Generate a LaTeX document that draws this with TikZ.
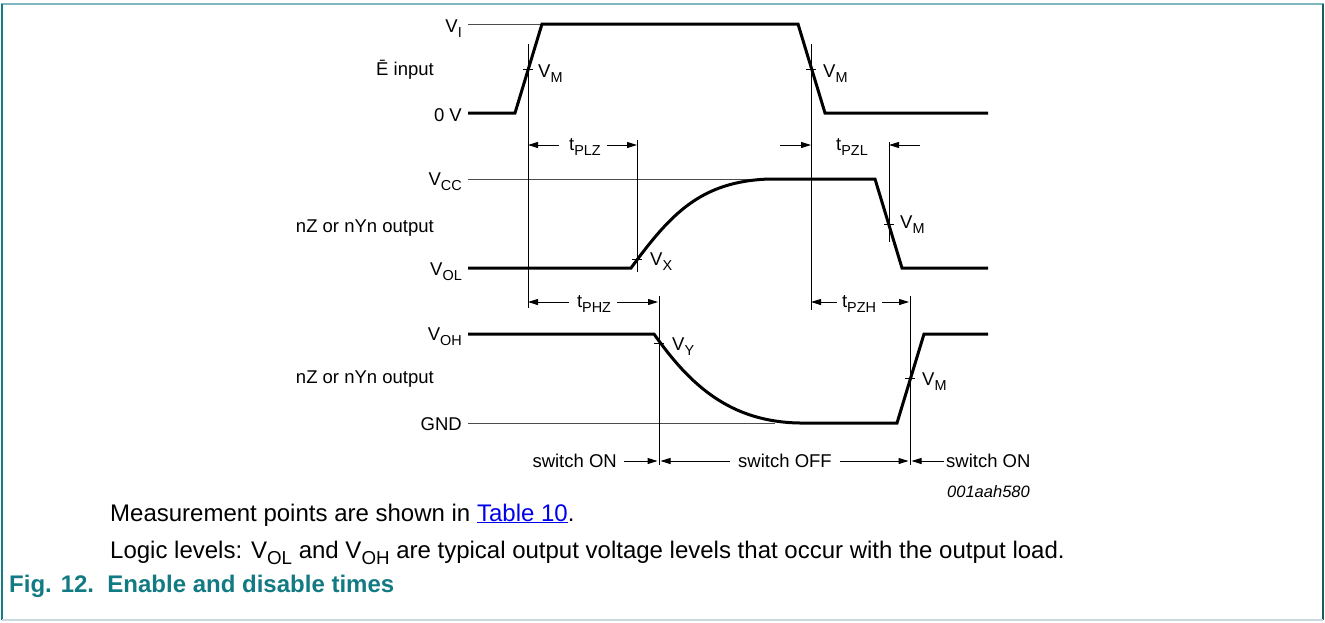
\documentclass[tikz,border=0pt]{standalone}
\usepackage{fontspec}
\setmainfont{Liberation Sans}
\usepackage{tikz}
\usetikzlibrary{positioning, arrows.meta}

\definecolor{figteal}{RGB}{18,122,130}
\definecolor{topteal}{RGB}{125,182,188}
\definecolor{sideteal}{RGB}{20,125,132}
\definecolor{rightteal}{RGB}{25,92,100}
\definecolor{botgray}{RGB}{200,218,222}
\definecolor{linkblue}{RGB}{0,0,235}

\newcommand{\vsub}[2]{#1\raisebox{-0.28em}{\scalebox{0.78}{#2}}}

\tikzset{
  wave/.style={line width=3pt},
  refline/.style={line width=1pt, black!70},
  vline/.style={line width=1pt},
  dim/.style={line width=1pt, -{Triangle[length=10pt,width=6pt]}},
  lbl/.style={inner sep=0pt, font=\fontsize{18.5}{22}\selectfont},
  note/.style={inner sep=0pt, anchor=base west, font=\fontsize{24}{28}\selectfont},
}

\begin{document}
\begin{tikzpicture}[x=1pt,y=-1pt]
\useasboundingbox (0,0) rectangle (1325,622);
% frame
\draw[topteal, line width=2pt] (1,4) -- (1324,4);
\draw[sideteal, line width=1.5pt] (2,4) -- (2,620);
\draw[rightteal, line width=1.5pt] (1323,4) -- (1323,620);
\draw[botgray, line width=2pt] (2,620) -- (1323,620);

% level labels
\node[lbl, anchor=base east] (vi) at (462,32) {\vsub{V}{I}};
\node[lbl, anchor=base east] (ein) at (434,75) {Ē input};
\node[lbl, anchor=base east] (zero) at (462,121) {0 V};
\node[lbl, anchor=base east] (vcc) at (462,185) {\vsub{V}{CC}};
\node[lbl, anchor=base east] (out1) at (434,232) {nZ or nYn output};
\node[lbl, anchor=base east] (vol) at (462,275) {\vsub{V}{OL}};
\node[lbl, anchor=base east] (voh) at (462,340) {\vsub{V}{OH}};
\node[lbl, anchor=base east] (out2) at (434,383) {nZ or nYn output};
\node[lbl, anchor=base east] (gnd) at (462,430) {GND};

% reference levels
\draw[refline] (468,24) -- (542,24);
\draw[refline] (468,179) -- (760,179);
\draw[refline] (468,423) -- (775,423);

% waveforms
\draw[wave] (468,113) -- (515,113) -- (542,24) -- (798,24) -- (825,113) -- (988,113);
\draw[wave] (468,268) -- (631,268) .. controls (670,215) and (700,181) .. (770,179)
  -- (875,179) -- (902,268) -- (988,268);
\draw[wave] (468,334) -- (654,334) .. controls (690,385) and (730,422) .. (800,423)
  -- (897,423) -- (924,334) -- (988,334);

% measurement lines
\coordinate (rise) at (528,44);
\coordinate (fall) at (811,44);
\coordinate (vx) at (637,140);
\coordinate (vm2) at (889,142);
\coordinate (vy) at (659,296);
\coordinate (vm3) at (910,296);
\draw[vline] (rise) -- ++(0,264);
\draw[vline] (fall) -- ++(0,266);
\draw[vline] (vx) -- ++(0,132);
\draw[vline] (vm2) -- ++(0,100);
\draw[vline] (vy) -- ++(0,169);
\draw[vline] (vm3) -- ++(0,169);

% switching points
\draw[vline] (523,69) -- (533,69);
\node[lbl, anchor=base west] (vma) at (538,77) {\vsub{V}{M}};
\draw[vline] (806,69) -- (816,69);
\node[lbl, anchor=base west] (vmb) at (823,77) {\vsub{V}{M}};
\draw[vline] (632,259) -- (642,259);
\node[lbl, anchor=base west] (vxl) at (650,265) {\vsub{V}{X}};
\draw[vline] (884,224) -- (894,224);
\node[lbl, anchor=base west] (vmc) at (900,228) {\vsub{V}{M}};
\draw[vline] (654,343) -- (664,343);
\node[lbl, anchor=base west] (vyl) at (672,350) {\vsub{V}{Y}};
\draw[vline] (905,378) -- (915,378);
\node[lbl, anchor=base west] (vmd) at (922,385) {\vsub{V}{M}};

% timing
\coordinate (rowa) at (0,145);
\coordinate (rowb) at (0,302);
\coordinate (rowc) at (0,461);
\node[lbl, anchor=base] (tplz) at (585,150) {\vsub{t}{PLZ}};
\draw[dim] ([xshift=-10pt]tplz.west |- rowa) -- (rise |- rowa);
\draw[dim] ([xshift=6pt]tplz.east |- rowa) -- (vx |- rowa);
\node[lbl, anchor=base] (tpzl) at (852,150) {\vsub{t}{PZL}};
\draw[dim] (780,145) -- (fall |- rowa);
\draw[dim] (920,145) -- (vm2 |- rowa);
\node[lbl, anchor=base] (tphz) at (594,307) {\vsub{t}{PHZ}};
\draw[dim] ([xshift=-8pt]tphz.west |- rowb) -- (rise |- rowb);
\draw[dim] ([xshift=6pt]tphz.east |- rowb) -- ([xshift=-1pt]vy |- rowb);
\node[lbl, anchor=base] (tpzh) at (859,307) {\vsub{t}{PZH}};
\draw[dim] ([xshift=-5pt]tpzh.west |- rowb) -- (fall |- rowb);
\draw[dim] ([xshift=6pt]tpzh.east |- rowb) -- ([xshift=-1pt]vm3 |- rowb);

\node[lbl, anchor=base east] (son1) at (617,467) {switch ON};
\draw[dim] ([xshift=7pt]son1.east |- rowc) -- ([xshift=-1.5pt]vy |- rowc);
\node[lbl, anchor=base] (soff) at (785,467) {switch OFF};
\draw[dim] ([xshift=-8pt]soff.west |- rowc) -- ([xshift=1.5pt]vy |- rowc);
\draw[dim] ([xshift=8pt]soff.east |- rowc) -- ([xshift=-1.5pt]vm3 |- rowc);
\node[lbl, anchor=base west] (son2) at (946,467) {switch ON};
\draw[dim] ([xshift=-2pt]son2.west |- rowc) -- ([xshift=1.5pt]vm3 |- rowc);

\node[inner sep=0pt, anchor=base east, font=\fontsize{16.5}{20}\selectfont\itshape] (code) at (1030,497) {001aah580};

% notes and caption
\node[note] (note1) at (110,521) {Measurement points are shown in \textcolor{linkblue}{\underline{Table 10}}.};
\node[note] (note2) at (110,558) {Logic levels: \vsub{V}{OL} and \vsub{V}{OH} are typical output voltage levels that occur with the output load.};
\node[note, text=figteal, font=\fontsize{24}{28}\selectfont\bfseries] (cap) at (9,592) {Fig. 12.\ \ Enable and disable times};
\end{tikzpicture}
\end{document}
